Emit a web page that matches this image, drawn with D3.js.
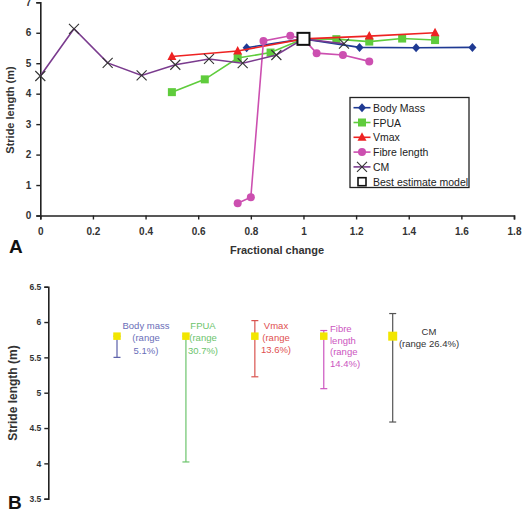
<!DOCTYPE html>
<html><head><meta charset="utf-8">
<script src="https://cdn.jsdelivr.net/npm/d3@7/dist/d3.min.js"></script>
<style>body{margin:0;background:#fff;font-family:Arial,"Liberation Sans",sans-serif}</style>
</head><body><svg id="c" width="523" height="531"></svg>
<script>
// ---- Panel A data ----
const bodyMassX = [0.784, 1.0, 1.213, 1.428, 1.642];
const bodyMassY = [5.51, 5.8, 5.52, 5.51, 5.52];
const fpuaX = [0.5, 0.625, 0.75, 0.875, 1.0, 1.125, 1.25, 1.375, 1.5];
const fpuaY = [4.05, 4.47, 5.17, 5.35, 5.8, 5.79, 5.71, 5.81, 5.76];
const vmaxX = [0.5, 0.75, 1.0, 1.25, 1.5];
const vmaxY = [5.22, 5.4, 5.8, 5.89, 6.0];
const fibreX = [0.75, 0.8, 0.848, 0.95, 1.0, 1.05, 1.15, 1.25];
const fibreY = [0.4, 0.6, 5.73, 5.9, 5.8, 5.33, 5.27, 5.06];
const cmX = [0, 0.128, 0.256, 0.385, 0.513, 0.641, 0.769, 0.897, 1.0, 1.154];
const cmY = [4.58, 6.13, 5.01, 4.6, 4.95, 5.14, 5.0, 5.27, 5.8, 5.64];
const bestX = [1.0];
const bestY = [5.8];
const xTicksA = [0, 0.2, 0.4, 0.6, 0.8, 1, 1.2, 1.4, 1.6, 1.8];
const yTicksA = [0, 1, 2, 3, 4, 5, 6, 7];
const legendNames = ["Body Mass", "FPUA", "Vmax", "Fibre length", "CM", "Best estimate model"];

// ---- Panel B data ----
const bCats = ["Body mass", "FPUA", "Vmax", "Fibre length", "CM"];
const bMid = [5.8, 5.8, 5.8, 5.8, 5.8];
const bLow = [5.5, 4.02, 5.225, 5.057, 4.585];
const bHigh = [5.8, 5.8, 6.02, 5.88, 6.12];
const bLabels = [["Body mass", "(range", "5.1%)"], ["FPUA", "(range", "30.7%)"], ["Vmax", "(range", "13.6%)"], ["Fibre", "length", "(range", "14.4%)"], ["CM", "(range 26.4%)"]];
const yTicksB = [3.5, 4, 4.5, 5, 5.5, 6, 6.5];

const svg = d3.select("#c");

// ===== Panel A =====
const xA = d3.scaleLinear().domain([0, 1.8]).range([40.3, 514]);
const yA = d3.scaleLinear().domain([0, 7]).range([215.5, 2.3]);
const gA = svg.append("g");

const axX = gA.append("g").attr("transform", `translate(0,${yA(0)})`)
  .call(d3.axisBottom(xA).tickValues(xTicksA).tickSize(4).tickPadding(8).tickFormat(d3.format("")));
const axY = gA.append("g").attr("transform", `translate(${xA(0)},0)`)
  .call(d3.axisLeft(yA).tickValues(yTicksA).tickSize(4).tickPadding(5).tickFormat(d3.format("d")));
[axX, axY].forEach(a => {
  a.select(".domain").attr("stroke", "#222").attr("stroke-width", 1.6);
  a.selectAll(".tick line").attr("stroke", "#222").attr("stroke-width", 1.4);
  a.selectAll("text").attr("font-size", 10).attr("font-weight", "bold").attr("fill", "#333")
    .attr("font-family", "Arial, 'Liberation Sans', sans-serif");
});

gA.append("text").attr("transform", `translate(14,110) rotate(-90)`).attr("text-anchor", "middle")
  .attr("font-size", 11).attr("font-weight", "bold").attr("fill", "#333").text("Stride length (m)");
gA.append("text").attr("x", 277).attr("y", 254).attr("text-anchor", "middle")
  .attr("font-size", 11).attr("font-weight", "bold").attr("fill", "#333").text("Fractional change");
gA.append("text").attr("x", 9).attr("y", 253).attr("font-size", 19).attr("font-weight", "bold").attr("fill", "#111").text("A");

const line = d3.line().x(d => xA(d[0])).y(d => yA(d[1]));
const series = [
  {xs: bodyMassX, ys: bodyMassY, color: "#1f3a93", mk: "diamond"},
  {xs: fpuaX, ys: fpuaY, color: "#5fcc3c", mk: "square"},
  {xs: vmaxX, ys: vmaxY, color: "#ee2222", mk: "triangle"},
  {xs: fibreX, ys: fibreY, color: "#cc4fb0", mk: "circle"},
  {xs: cmX, ys: cmY, color: "#7a3b8e", mk: "cross"}
];
function marker(g, type, color, x, y) {
  if (type === "diamond") g.append("path").attr("d", `M${x},${y-4.5}L${x+4},${y}L${x},${y+4.5}L${x-4},${y}Z`).attr("fill", color);
  else if (type === "square") g.append("rect").attr("x", x-4).attr("y", y-4).attr("width", 8).attr("height", 8).attr("fill", color);
  else if (type === "triangle") g.append("path").attr("d", `M${x},${y-5}L${x+4.5},${y+3.5}L${x-4.5},${y+3.5}Z`).attr("fill", color);
  else if (type === "circle") g.append("circle").attr("cx", x).attr("cy", y).attr("r", 4).attr("fill", color);
  else if (type === "cross") g.append("path").attr("d", `M${x-5},${y-5}L${x+5},${y+5}M${x-5},${y+5}L${x+5},${y-5}`).attr("stroke", "#333").attr("stroke-width", 1.1);
}
series.forEach(s => {
  const pts = s.xs.map((x, i) => [x, s.ys[i]]);
  gA.append("path").attr("d", line(pts)).attr("fill", "none").attr("stroke", s.color).attr("stroke-width", 1.6);
  pts.forEach(p => marker(gA, s.mk, s.color, xA(p[0]), yA(p[1])));
});
bestX.forEach((x, i) => gA.append("rect").attr("x", xA(x)-6).attr("y", yA(bestY[i])-6).attr("width", 12).attr("height", 12)
  .attr("fill", "#fff").attr("stroke", "#111").attr("stroke-width", 2));

// legend
const lg = gA.append("g");
lg.append("rect").attr("x", 350).attr("y", 97.5).attr("width", 119).attr("height", 90).attr("fill", "#fff").attr("stroke", "#222").attr("stroke-width", 1.3);
legendNames.forEach((n, i) => {
  const cy = 107.7 + i * 14.8;
  if (i < 5) {
    const s = series[i];
    lg.append("line").attr("x1", 353.5).attr("x2", 370.5).attr("y1", cy).attr("y2", cy).attr("stroke", s.color).attr("stroke-width", 1.6);
    marker(lg, s.mk, s.color, 362, cy);
  } else {
    lg.append("rect").attr("x", 358).attr("y", cy-4).attr("width", 8).attr("height", 8).attr("fill", "#fff").attr("stroke", "#111").attr("stroke-width", 1.6);
  }
  lg.append("text").attr("x", 373).attr("y", cy + 4).attr("font-size", 10.5).attr("fill", "#222").text(n);
});

// ===== Panel B =====
const yB = d3.scaleLinear().domain([3.5, 6.5]).range([498.7, 286.7]);
const xB = d3.scalePoint().domain(bCats).range([117, 392.7]);
const bxPos = [117, 185, 254.3, 323.3, 392.7];
const gB = svg.append("g");
const axB = gB.append("g").attr("transform", "translate(48.3,0)")
  .call(d3.axisLeft(yB).tickValues(yTicksB).tickSize(4).tickPadding(3).tickFormat(d3.format("")));
axB.select(".domain").attr("stroke", "#222").attr("stroke-width", 1.6);
axB.selectAll(".tick line").attr("stroke", "#222").attr("stroke-width", 1.4);
axB.selectAll("text").attr("font-size", 8.5).attr("font-weight", "bold").attr("fill", "#333");
gB.append("text").attr("transform", `translate(17,393) rotate(-90)`).attr("text-anchor", "middle")
  .attr("font-size", 12).attr("font-weight", "bold").attr("fill", "#333").text("Stride length (m)");
gB.append("text").attr("x", 8).attr("y", 509).attr("font-size", 19).attr("font-weight", "bold").attr("fill", "#111").text("B");

const bColors = ["#5a5ea8", "#6cc46c", "#d9534f", "#cc55c0", "#555555"];
const bText = ["#6a6eb8", "#6cc46c", "#e05050", "#cc55c0", "#333333"];
bCats.forEach((c, i) => {
  const x = xB(c), col = bColors[i];
  gB.append("line").attr("x1", x).attr("x2", x).attr("y1", yB(bHigh[i])).attr("y2", yB(bLow[i])).attr("stroke", col).attr("stroke-width", 1.2);
  [bLow[i], bHigh[i]].forEach(v => gB.append("line").attr("x1", x-3.5).attr("x2", x+3.5).attr("y1", yB(v)).attr("y2", yB(v)).attr("stroke", col).attr("stroke-width", 1.2));
  const sz = i === 4 ? 9 : 7.5;
  gB.append("rect").attr("x", x - sz/2).attr("y", yB(bMid[i]) - sz/2).attr("width", sz).attr("height", sz).attr("fill", "#f2e600");
});
// labels
const labPos = [{x: 146, y: 329, a: "middle", lh: 12.3}, {x: 203, y: 329, a: "middle", lh: 12.3}, {x: 276, y: 329, a: "middle", lh: 12}, {x: 330, y: 332, a: "start", lh: 11.7}, {x: 429, y: 335, a: "middle", lh: 11.5}];
bLabels.forEach((ls, i) => {
  ls.forEach((t, j) => gB.append("text").attr("x", labPos[i].x).attr("y", labPos[i].y + j * labPos[i].lh)
    .attr("text-anchor", labPos[i].a).attr("font-size", 9.5).attr("fill", bText[i]).text(t));
});
</script></body></html>
